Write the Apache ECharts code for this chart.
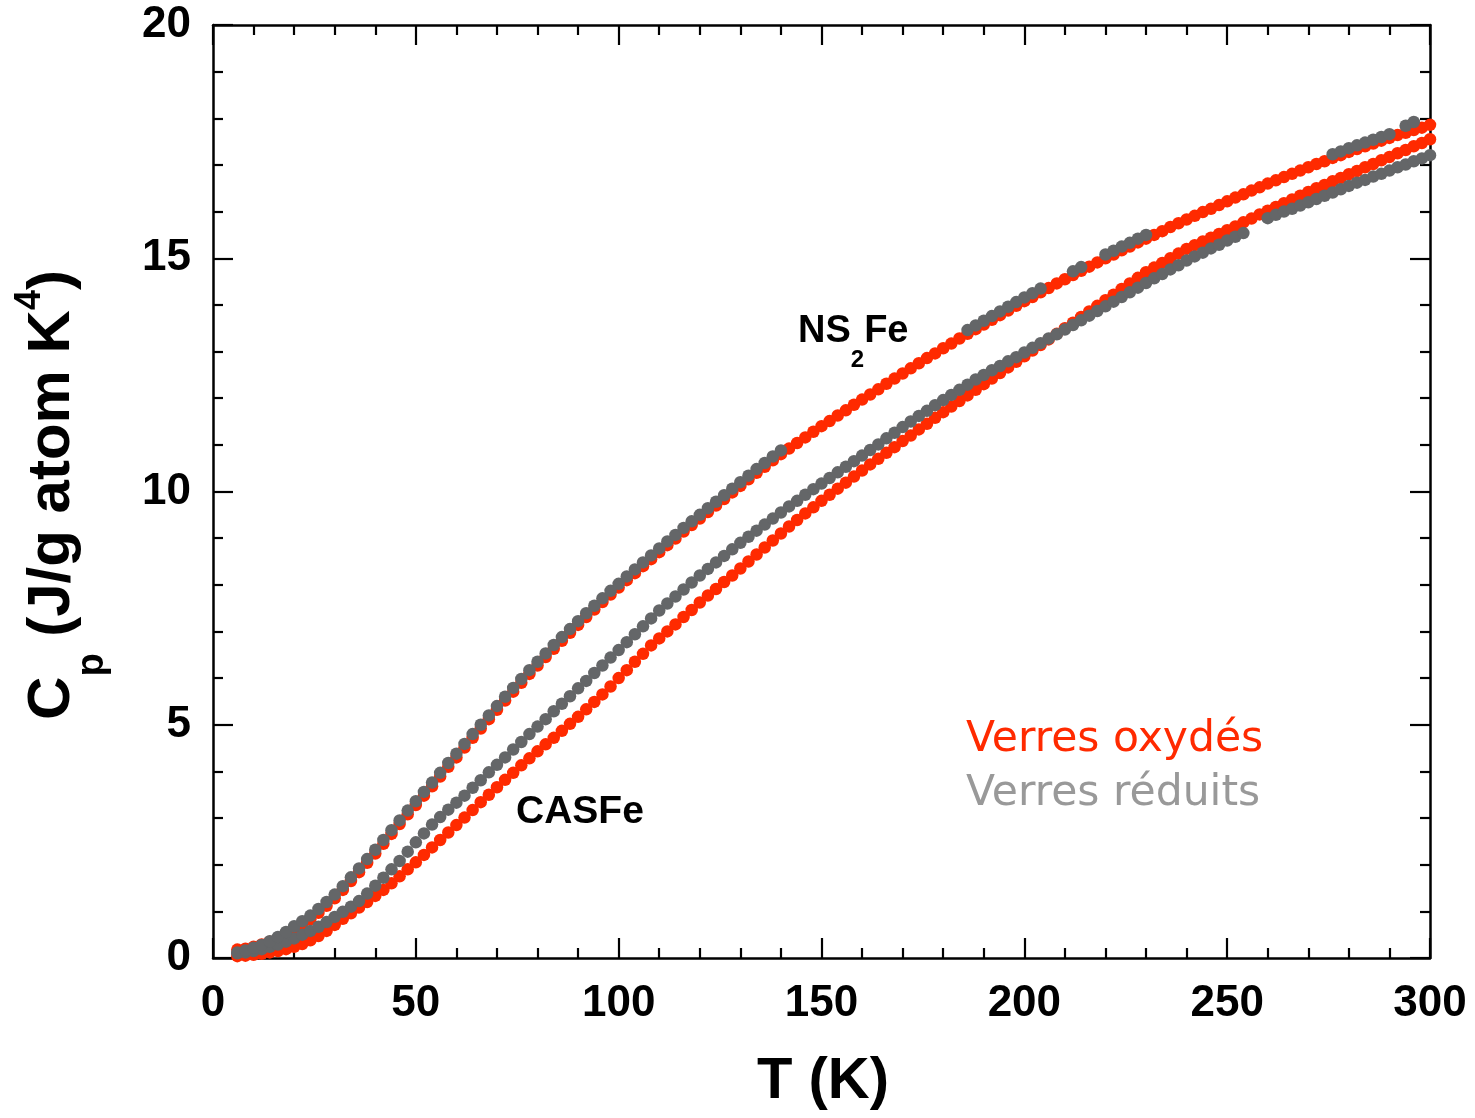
<!DOCTYPE html>
<html>
<head>
<meta charset="utf-8">
<title>Cp verres</title>
<script src="https://cdn.jsdelivr.net/npm/echarts@6/dist/echarts.min.js"></script>
<style>
	html, body { margin: 0; padding: 0; background: #fff; }
	#chart { width: 1475px; height: 1118px; }
</style>
</head>
<body>
<div id="chart"></div>
<script>
	// temperatures (K), shared by all four series
	var temps = [6, 8, 10, 12, 14, 16, 18, 20, 22, 24,
		26, 28, 30, 32, 34, 36, 38, 40, 42, 44,
		46, 48, 50, 52, 54, 56, 58, 60, 62, 64,
		66, 68, 70, 72, 74, 76, 78, 80, 82, 84,
		86, 88, 90, 92, 94, 96, 98, 100, 102, 104,
		106, 108, 110, 112, 114, 116, 118, 120, 122, 124,
		126, 128, 130, 132, 134, 136, 138, 140, 142, 144,
		146, 148, 150, 152, 154, 156, 158, 160, 162, 164,
		166, 168, 170, 172, 174, 176, 178, 180, 182, 184,
		186, 188, 190, 192, 194, 196, 198, 200, 202, 204,
		206, 208, 210, 212, 214, 216, 218, 220, 222, 224,
		226, 228, 230, 232, 234, 236, 238, 240, 242, 244,
		246, 248, 250, 252, 254, 256, 258, 260, 262, 264,
		266, 268, 270, 272, 274, 276, 278, 280, 282, 284,
		286, 288, 290, 292, 294, 296, 298, 300];

	// NS2Fe, verre oxydé
	var ns2feOx = [0.18, 0.20, 0.24, 0.29, 0.35, 0.42, 0.50, 0.60, 0.71, 0.83,
		0.97, 1.12, 1.28, 1.46, 1.65, 1.84, 2.04, 2.24, 2.45, 2.66,
		2.87, 3.08, 3.28, 3.48, 3.68, 3.89, 4.10, 4.30, 4.51, 4.72,
		4.92, 5.12, 5.32, 5.52, 5.71, 5.90, 6.09, 6.27, 6.45, 6.63,
		6.80, 6.97, 7.14, 7.31, 7.47, 7.63, 7.79, 7.94, 8.10, 8.25,
		8.40, 8.55, 8.70, 8.85, 8.99, 9.14, 9.28, 9.42, 9.56, 9.70,
		9.84, 9.98, 10.12, 10.26, 10.40, 10.53, 10.67, 10.80, 10.92, 11.04,
		11.16, 11.28, 11.40, 11.51, 11.63, 11.74, 11.86, 11.97, 12.08, 12.19,
		12.31, 12.42, 12.53, 12.64, 12.75, 12.86, 12.96, 13.07, 13.17, 13.28,
		13.38, 13.48, 13.58, 13.68, 13.78, 13.88, 13.98, 14.08, 14.17, 14.27,
		14.36, 14.46, 14.55, 14.64, 14.73, 14.82, 14.91, 15.00, 15.08, 15.17,
		15.25, 15.34, 15.42, 15.50, 15.58, 15.67, 15.75, 15.83, 15.91, 15.99,
		16.06, 16.14, 16.22, 16.30, 16.37, 16.45, 16.52, 16.60, 16.67, 16.74,
		16.81, 16.88, 16.95, 17.02, 17.08, 17.15, 17.21, 17.28, 17.34, 17.40,
		17.46, 17.52, 17.58, 17.64, 17.69, 17.75, 17.80, 17.86];

	// NS2Fe, verre réduit (null = pas de point)
	var ns2feRed = [0.12, 0.16, 0.22, 0.28, 0.36, 0.45, 0.56, 0.68, 0.79, 0.91,
		1.05, 1.20, 1.36, 1.54, 1.73, 1.92, 2.12, 2.32, 2.53, 2.74,
		2.95, 3.16, 3.36, 3.56, 3.76, 3.97, 4.18, 4.38, 4.59, 4.80,
		5.00, 5.20, 5.40, 5.60, 5.79, 5.98, 6.17, 6.35, 6.53, 6.71,
		6.88, 7.05, 7.22, 7.39, 7.55, 7.71, 7.87, 8.02, 8.18, 8.33,
		8.48, 8.63, 8.78, 8.93, 9.07, 9.22, 9.36, 9.50, 9.64, 9.78,
		9.92, 10.06, 10.20, 10.34, 10.48, 10.61, 10.75, 10.88, null, null,
		null, null, null, null, null, null, null, null, null, null,
		null, null, null, null, null, null, null, null, null, null,
		13.46, 13.56, 13.66, 13.76, 13.86, 13.96, 14.06, 14.16, 14.25, 14.35,
		null, null, null, 14.72, 14.81, null, null, 15.08, 15.16, 15.25,
		15.33, 15.42, 15.50, null, null, null, null, null, null, null,
		null, null, null, null, null, null, null, null, null, null,
		null, null, null, null, null, 17.23, 17.29, 17.36, 17.42, 17.48,
		17.54, 17.60, 17.66, null, 17.84, 17.92, null, null];

	// CASFe, verre oxydé
	var casfeOx = [0.04, 0.05, 0.07, 0.09, 0.12, 0.15, 0.19, 0.24, 0.30, 0.38,
		0.47, 0.58, 0.71, 0.84, 0.96, 1.08, 1.20, 1.33, 1.46, 1.60,
		1.75, 1.90, 2.05, 2.21, 2.37, 2.53, 2.69, 2.85, 3.01, 3.17,
		3.34, 3.50, 3.66, 3.82, 3.97, 4.13, 4.28, 4.43, 4.58, 4.72,
		4.87, 5.02, 5.17, 5.33, 5.49, 5.65, 5.82, 6.00, 6.17, 6.35,
		6.52, 6.70, 6.85, 7.00, 7.15, 7.31, 7.46, 7.62, 7.77, 7.91,
		8.06, 8.20, 8.35, 8.50, 8.65, 8.80, 8.95, 9.10, 9.25, 9.39,
		9.53, 9.66, 9.80, 9.93, 10.06, 10.19, 10.32, 10.45, 10.58, 10.70,
		10.83, 10.95, 11.08, 11.20, 11.33, 11.45, 11.58, 11.70, 11.82, 11.94,
		12.06, 12.18, 12.30, 12.42, 12.54, 12.66, 12.78, 12.90, 13.02, 13.14,
		13.26, 13.38, 13.50, 13.62, 13.74, 13.86, 13.98, 14.10, 14.22, 14.34,
		14.46, 14.58, 14.70, 14.80, 14.90, 15.00, 15.10, 15.20, 15.28, 15.36,
		15.44, 15.52, 15.60, 15.68, 15.77, 15.85, 15.94, 16.02, 16.10, 16.18,
		16.26, 16.34, 16.42, 16.50, 16.57, 16.65, 16.72, 16.80, 16.87, 16.95,
		17.02, 17.10, 17.17, 17.25, 17.32, 17.40, 17.47, 17.55];

	// CASFe, verre réduit
	var casfeRed = [0.10, 0.12, 0.15, 0.19, 0.24, 0.29, 0.35, 0.42, 0.50, 0.58,
		0.67, 0.77, 0.88, 0.99, 1.10, 1.22, 1.38, 1.55, 1.72, 1.90,
		2.08, 2.28, 2.48, 2.67, 2.86, 3.02, 3.18, 3.33, 3.48, 3.65,
		3.81, 3.98, 4.14, 4.30, 4.47, 4.63, 4.80, 4.96, 5.12, 5.29,
		5.45, 5.61, 5.78, 5.94, 6.11, 6.27, 6.44, 6.60, 6.77, 6.94,
		7.11, 7.28, 7.45, 7.60, 7.75, 7.90, 8.05, 8.20, 8.34, 8.48,
		8.62, 8.76, 8.90, 9.03, 9.16, 9.29, 9.42, 9.55, 9.68, 9.80,
		9.93, 10.05, 10.17, 10.29, 10.41, 10.53, 10.65, 10.77, 10.89, 11.01,
		11.14, 11.26, 11.38, 11.50, 11.62, 11.73, 11.85, 11.96, 12.07, 12.18,
		12.29, 12.40, 12.50, 12.60, 12.69, 12.79, 12.88, 12.98, 13.08, 13.18,
		13.28, 13.37, 13.47, 13.57, 13.67, 13.77, 13.87, 13.97, 14.07, 14.17,
		14.27, 14.37, 14.47, 14.57, 14.66, 14.76, 14.85, 14.95, 15.04, 15.12,
		15.21, 15.29, 15.38, 15.46, 15.54, null, null, 15.86, 15.93, 16.00,
		16.06, 16.13, 16.20, 16.27, 16.34, 16.41, 16.48, 16.55, 16.62, 16.68,
		16.75, 16.81, 16.88, 16.95, 17.01, 17.08, 17.14, 17.21];

	var xTicks = [0, 50, 100, 150, 200, 250, 300];
	var yTicks = [0, 5, 10, 15, 20];

	var RED = '#ff2a00';
	var GREY = '#646668';
	var BOLD = 'Liberation Sans';

	function pairs(values) {
		var out = [];
		for (var i = 0; i < temps.length; i++) {
			if (values[i] !== null) out.push([temps[i], values[i]]);
		}
		return out;
	}

	function dots(data, color) {
		return {
			type: 'scatter',
			symbol: 'circle',
			symbolSize: 12.5,
			data: pairs(data),
			itemStyle: { color: color, opacity: 1 },
			silent: true
		};
	}

	var frame = { show: true, onZero: false, lineStyle: { color: '#000', width: 2.5 } };
	var tick = { show: true, inside: true, length: 20, lineStyle: { color: '#000', width: 2.2 } };
	var minor = { show: true, splitNumber: 5, length: 10, lineStyle: { color: '#000', width: 2.2 } };
	var tickLabel = { fontFamily: BOLD, fontWeight: 'bold', fontSize: 44, color: '#000' };

	function xAxisCfg(pos, labels) {
		return {
			type: 'value', position: pos, min: 0, max: 300, interval: 50,
			axisLine: frame, axisTick: tick, minorTick: minor,
			splitLine: { show: false }, minorSplitLine: { show: false },
			axisLabel: labels ? Object.assign({ margin: 24, formatter: function(v) {
				return xTicks.indexOf(v) >= 0 ? String(v) : '';
			} }, tickLabel) : { show: false }
		};
	}

	function yAxisCfg(pos, labels) {
		return {
			type: 'value', position: pos, min: 0, max: 20, interval: 5,
			axisLine: frame, axisTick: tick, minorTick: minor,
			splitLine: { show: false }, minorSplitLine: { show: false },
			axisLabel: labels ? Object.assign({ margin: 22, formatter: function(v) {
				return yTicks.indexOf(v) >= 0 ? String(v) : '';
			} }, tickLabel) : { show: false }
		};
	}

	var chart = echarts.init(document.getElementById('chart'), null, { renderer: 'canvas' });

	var option = {
		backgroundColor: '#fff',
		animation: false,
		grid: { left: 213, right: 45, top: 25, bottom: 160, containLabel: false },
		xAxis: [xAxisCfg('bottom', true), xAxisCfg('top', false)],
		yAxis: [yAxisCfg('left', true), yAxisCfg('right', false)],
		series: [
			dots(ns2feOx, RED),
			dots(casfeOx, RED),
			dots(casfeRed, GREY),
			dots(ns2feRed, GREY)
		],
		graphic: [
			{
				// titre axe Y : Cp (J/g atom K4)
				type: 'text', x: 52, y: 495, rotation: Math.PI / 2, z: 100,
				style: {
					text: '{m|C}{s|p}{m| (J/g atom K}{u|4}{m|)}',
					align: 'center', verticalAlign: 'middle', fill: '#000',
					rich: {
						m: { fontFamily: BOLD, fontWeight: 'bold', fontSize: 60, lineHeight: 120, verticalAlign: 'middle' },
						s: { fontFamily: BOLD, fontWeight: 'bold', fontSize: 38, lineHeight: 40, verticalAlign: 'bottom' },
						u: { fontFamily: BOLD, fontWeight: 'bold', fontSize: 36, verticalAlign: 'top', padding: [20, 0, 0, 0] }
					}
				}
			},
			{
				type: 'text', x: 823, y: 1082, z: 100,
				style: {
					text: 'T (K)', align: 'center', verticalAlign: 'middle', fill: '#000',
					fontFamily: BOLD, fontWeight: 'bold', fontSize: 58
				}
			},
			{
				type: 'text', x: 798, y: 313, z: 100,
				style: {
					text: '{m|NS}{s|2}{m|Fe}', align: 'left', verticalAlign: 'top', fill: '#000',
					rich: {
						m: { fontFamily: BOLD, fontWeight: 'bold', fontSize: 38, lineHeight: 40, verticalAlign: 'top' },
						s: { fontFamily: BOLD, fontWeight: 'bold', fontSize: 24, lineHeight: 94, verticalAlign: 'middle' }
					}
				}
			},
			{
				type: 'text', x: 516, y: 812, z: 100,
				style: {
					text: 'CASFe', align: 'left', verticalAlign: 'middle', fill: '#000',
					fontFamily: BOLD, fontWeight: 'bold', fontSize: 39
				}
			},
			{
				type: 'text', x: 966, y: 740, z: 100,
				style: {
					text: 'Verres oxydés', align: 'left', verticalAlign: 'middle', fill: RED,
					fontFamily: 'DejaVu Sans', fontSize: 42.5
				}
			},
			{
				type: 'text', x: 966, y: 794, z: 100,
				style: {
					text: 'Verres réduits', align: 'left', verticalAlign: 'middle', fill: '#999999',
					fontFamily: 'DejaVu Sans', fontSize: 42.5
				}
			}
		]
	};

	chart.setOption(option);
</script>
</body>
</html>
